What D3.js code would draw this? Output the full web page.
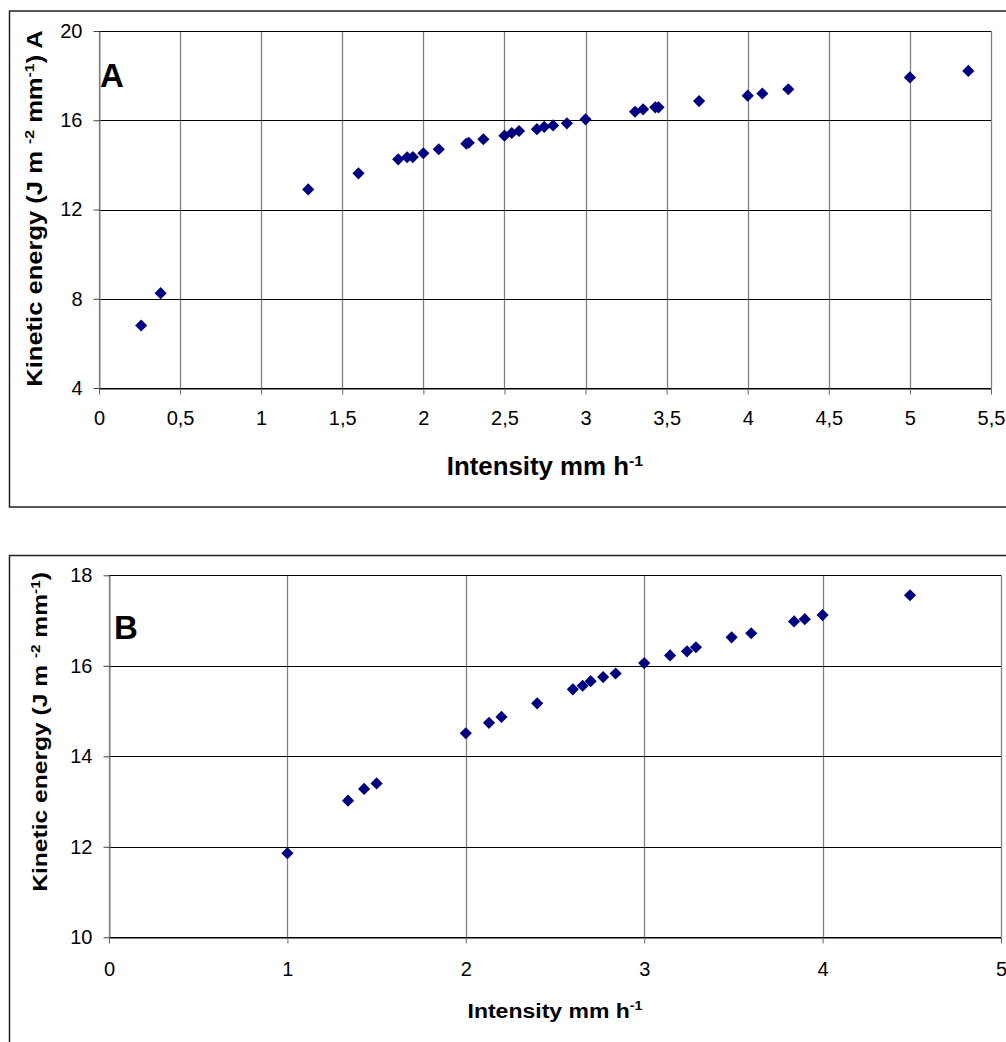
<!DOCTYPE html>
<html>
<head>
<meta charset="utf-8">
<script src="https://cdn.jsdelivr.net/npm/d3@7/dist/d3.min.js"></script>
<style>
  html, body { margin: 0; padding: 0; background: #fff; }
  svg { display: block; }
  text { font-family: "Liberation Sans", Arial, sans-serif; fill: #000; }
</style>
</head>
<body>
<svg id="chart" width="1006" height="1042"></svg>
<script>
// Panel A: kinetic energy vs rainfall intensity
const intensityA = [0.26, 0.38, 1.29, 1.60, 1.845, 1.90, 1.935, 2.0, 2.095, 2.265, 2.28, 2.37,
  2.50, 2.545, 2.59, 2.70, 2.745, 2.80, 2.885, 3.0, 3.305, 3.355, 3.43, 3.45, 3.70, 4.0, 4.09,
  4.25, 5.0, 5.36];
const energyA = [6.8, 8.25, 12.9, 13.62, 14.25, 14.34, 14.35, 14.52, 14.7, 14.95, 14.99, 15.15,
  15.31, 15.43, 15.52, 15.6, 15.7, 15.77, 15.86, 16.04, 16.38, 16.49, 16.58, 16.58, 16.86, 17.1,
  17.2, 17.39, 17.92, 18.21];

// Panel B
const intensityB = [1.0, 1.34, 1.43, 1.50, 2.0, 2.13, 2.20, 2.40, 2.60, 2.655, 2.70, 2.77, 2.84,
  3.0, 3.145, 3.24, 3.29, 3.49, 3.60, 3.84, 3.90, 4.0, 4.49];
const energyB = [11.86, 13.02, 13.28, 13.40, 14.51, 14.74, 14.87, 15.17, 15.48, 15.56, 15.66,
  15.75, 15.83, 16.06, 16.23, 16.32, 16.41, 16.63, 16.72, 16.98, 17.03, 17.12, 17.56];

const xTicksA = [0, 0.5, 1, 1.5, 2, 2.5, 3, 3.5, 4, 4.5, 5, 5.5];
const yTicksA = [4, 8, 12, 16, 20];
const xTicksB = [0, 1, 2, 3, 4, 5];
const yTicksB = [10, 12, 14, 16, 18];

const svg = d3.select("#chart");
const fmt = d => String(d).replace(".", ",");

// Stretch a title along its own direction so that it spans a given length
function fitLength(textSel, len) {
  const w = textSel.node().getBBox().width;
  return w > 0 ? len / w : 1;
}

function addTitle(g, parts, opt) {
  const t = g.append("text")
    .attr("font-weight", "bold")
    .attr("font-size", opt.size)
    .attr("text-anchor", "middle");
  const shift = opt.size * 0.38;
  let raised = false;
  parts.forEach(p => {
    if (p.sup) {
      t.append("tspan").attr("font-size", opt.size * 0.62).attr("dy", -shift).text(p.sup);
      raised = true;
    } else {
      const sp = t.append("tspan").text(p.txt);
      if (raised) { sp.attr("dy", shift); raised = false; }
    }
  });
  const s = fitLength(t, opt.len);
  const rot = opt.rotate ? " rotate(-90)" : "";
  t.attr("transform", `translate(${opt.x},${opt.y})${rot} scale(${s},1)`);
  return t;
}

function panel(cfg) {
  const g = svg.append("g");

  // outer frame
  g.append("rect")
    .attr("x", 9.5).attr("y", cfg.frameTop)
    .attr("width", 1020).attr("height", cfg.frameH)
    .attr("fill", "#fff").attr("stroke", "#222").attr("stroke-width", 1.5);

  const x = d3.scaleLinear().domain(cfg.xDomain).range([cfg.left, cfg.right]);
  const y = d3.scaleLinear().domain(cfg.yDomain).range([cfg.bottom, cfg.top]);

  // vertical gridlines (grey)
  g.append("g").selectAll("line").data(cfg.xTicks).join("line")
    .attr("x1", d => Math.round(x(d)) + 0.5).attr("x2", d => Math.round(x(d)) + 0.5)
    .attr("y1", cfg.top).attr("y2", cfg.bottom)
    .attr("stroke", "#808080").attr("stroke-width", 1.3);

  // horizontal gridlines (black)
  g.append("g").selectAll("line").data(cfg.yTicks).join("line")
    .attr("x1", cfg.left).attr("x2", cfg.right)
    .attr("y1", d => Math.round(y(d)) + 0.5).attr("y2", d => Math.round(y(d)) + 0.5)
    .attr("stroke", "#000").attr("stroke-width", 1);

  // x axis
  const xa = g.append("g")
    .attr("transform", `translate(0,${Math.round(y(cfg.yDomain[0])) + 0.5})`)
    .call(d3.axisBottom(x).tickValues(cfg.xTicks).tickFormat(fmt)
      .tickSizeInner(6).tickSizeOuter(0).tickPadding(cfg.xPad));
  xa.select(".domain").attr("stroke", "#000");
  xa.selectAll(".tick line").attr("stroke", "#666");
  xa.selectAll(".tick text").attr("font-size", cfg.tickFont).attr("font-family", "Liberation Sans, Arial, sans-serif");

  // y axis
  const ya = g.append("g")
    .attr("transform", `translate(${Math.round(x(cfg.xDomain[0])) + 0.5},0)`)
    .call(d3.axisLeft(y).tickValues(cfg.yTicks).tickFormat(fmt)
      .tickSizeInner(6).tickSizeOuter(0).tickPadding(11));
  ya.select(".domain").attr("stroke", "#808080");
  ya.selectAll(".tick line").attr("stroke", "#444");
  ya.selectAll(".tick text").attr("font-size", cfg.tickFont).attr("font-family", "Liberation Sans, Arial, sans-serif");

  // data markers: navy diamonds
  const diamond = d3.symbol().type(d3.symbolSquare).size(74)();
  g.append("g").selectAll("path").data(cfg.xs.map((v, i) => [v, cfg.ys[i]])).join("path")
    .attr("d", diamond)
    .attr("transform", d => `translate(${x(d[0])},${y(d[1])}) rotate(45)`)
    .attr("fill", "#000080");

  // panel letter
  g.append("text")
    .attr("x", cfg.letterX).attr("y", cfg.letterY)
    .attr("font-size", 33).attr("font-weight", "bold")
    .text(cfg.letter);

  addTitle(g, cfg.xTitle, cfg.xTitleOpt);
  addTitle(g, cfg.yTitle, cfg.yTitleOpt);
}

panel({
  frameTop: 11, frameH: 496,
  left: 99, right: 991, top: 31, bottom: 388,
  xDomain: [0, 5.5], yDomain: [4, 20],
  xTicks: xTicksA, yTicks: yTicksA,
  xs: intensityA, ys: energyA,
  xPad: 16, tickFont: 20,
  letter: "A", letterX: 100, letterY: 87,
  xTitle: [{ txt: "Intensity mm h" }, { sup: "-1" }],
  xTitleOpt: { size: 25, len: 197, x: 545, y: 475 },
  yTitle: [{ txt: "Kinetic energy (J m " }, { sup: "-2" }, { txt: " mm" }, { sup: "-1" }, { txt: ") A" }],
  yTitleOpt: { size: 22, len: 357, x: 42, y: 208.5, rotate: true }
});

panel({
  frameTop: 555.5, frameH: 600,
  left: 109, right: 1001, top: 575.3, bottom: 937.3,
  xDomain: [0, 5], yDomain: [10, 18],
  xTicks: xTicksB, yTicks: yTicksB,
  xs: intensityB, ys: energyB,
  xPad: 18, tickFont: 20,
  letter: "B", letterX: 114, letterY: 639,
  xTitle: [{ txt: "Intensity mm h" }, { sup: "-1" }],
  xTitleOpt: { size: 21, len: 175, x: 555, y: 1018 },
  yTitle: [{ txt: "Kinetic energy (J m " }, { sup: "-2" }, { txt: " mm" }, { sup: "-1" }, { txt: ")" }],
  yTitleOpt: { size: 19.5, len: 320, x: 47, y: 732, rotate: true }
});
</script>
</body>
</html>
